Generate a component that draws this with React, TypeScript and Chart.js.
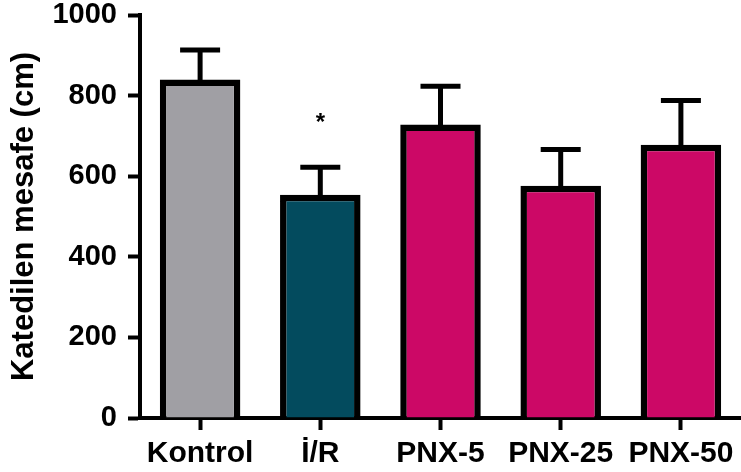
import React, { useEffect, useRef } from "react";
import { Chart, registerables } from "chart.js";

Chart.register(...registerables);

const categories = ["Kontrol", "İ/R", "PNX-5", "PNX-25", "PNX-50"];
const means = [840, 554, 728, 576, 678];
const sems = [73, 68, 95, 90, 110];
const significance = ["", "*", "", "", ""];
const barColors = ["#a09fa4", "#034b5e", "#cc0866", "#cc0866", "#cc0866"];
const yTicks = [0, 200, 400, 600, 800, 1000];

const FONT = "'Liberation Sans', Arial, sans-serif";

const errorBarPlugin = {
  id: "errorBars",
  afterDatasetsDraw(chart: any) {
    const ctx = chart.ctx;
    const meta = chart.getDatasetMeta(0);
    const yScale = chart.scales.y;
    ctx.save();
    ctx.strokeStyle = "#000";
    ctx.fillStyle = "#000";
    meta.data.forEach((bar: any, i: number) => {
      const x = bar.x;
      const yBar = bar.y;
      const yTop = yScale.getPixelForValue(means[i] + sems[i]);
      ctx.lineWidth = 5;
      ctx.beginPath();
      ctx.moveTo(x, yBar + 2);
      ctx.lineTo(x, yTop);
      ctx.stroke();
      ctx.beginPath();
      ctx.moveTo(x - 20, yTop);
      ctx.lineTo(x + 20, yTop);
      ctx.stroke();
      if (significance[i]) {
        ctx.font = `bold 24px ${FONT}`;
        ctx.textAlign = "center";
        ctx.textBaseline = "middle";
        ctx.fillText(significance[i], x, yTop - 44);
      }
    });
    ctx.restore();
  },
};

export default function App() {
  const ref = useRef<HTMLCanvasElement>(null);
  useEffect(() => {
    if (!ref.current) return;
    const chart = new Chart(ref.current, {
      type: "bar",
      data: {
        labels: categories,
        datasets: [
          {
            data: means,
            backgroundColor: barColors,
            borderColor: "#000",
            borderWidth: 6.5,
            borderSkipped: "start",
            categoryPercentage: 1,
            barPercentage: 0.67,
          },
        ],
      },
      options: {
        responsive: false,
        animation: false,
        layout: { padding: { top: 15, right: 0, left: 0, bottom: 0 } },
        plugins: { legend: { display: false }, tooltip: { enabled: false } },
        scales: {
          x: {
            grid: {
              offset: false,
              drawOnChartArea: false,
              drawTicks: true,
              tickLength: 12,
              tickWidth: 4,
              tickColor: "#000",
            },
            border: { display: true, width: 4, color: "#000" },
            ticks: {
              color: "#000",
              padding: 6,
              maxRotation: 0,
              autoSkip: false,
              font: { family: FONT, size: 30, weight: "bold" },
            },
            afterFit(scale: any) {
              scale.height = 54;
            },
          },
          y: {
            min: 0,
            max: 1000,
            afterBuildTicks(scale: any) {
              scale.ticks = yTicks.map((v) => ({ value: v }));
            },
            grid: {
              drawOnChartArea: false,
              drawTicks: true,
              tickLength: 12,
              tickWidth: 4,
              tickColor: "#000",
            },
            border: { display: true, width: 4, color: "#000" },
            ticks: {
              color: "#000",
              padding: 11,
              callback: (v: any) => String(v),
              font: { family: FONT, size: 29, weight: "bold", lineHeight: 1 },
            },
            title: {
              display: true,
              text: "Katedilen mesafe (cm)",
              color: "#000",
              padding: { top: 6, bottom: 0 },
              font: { family: FONT, size: 31, weight: "bold" },
            },
            afterFit(scale: any) {
              scale.width = 140;
              scale.paddingTop = 0;
              scale.paddingBottom = 0;
            },
          },
        },
      },
      plugins: [errorBarPlugin],
    });
    return () => chart.destroy();
  }, []);
  return (
    <div style={{ position: "fixed", left: 0, top: 0, width: 741, height: 472, background: "#fff" }}>
      <canvas ref={ref} width={741} height={472} style={{ display: "block" }} />
    </div>
  );
}
